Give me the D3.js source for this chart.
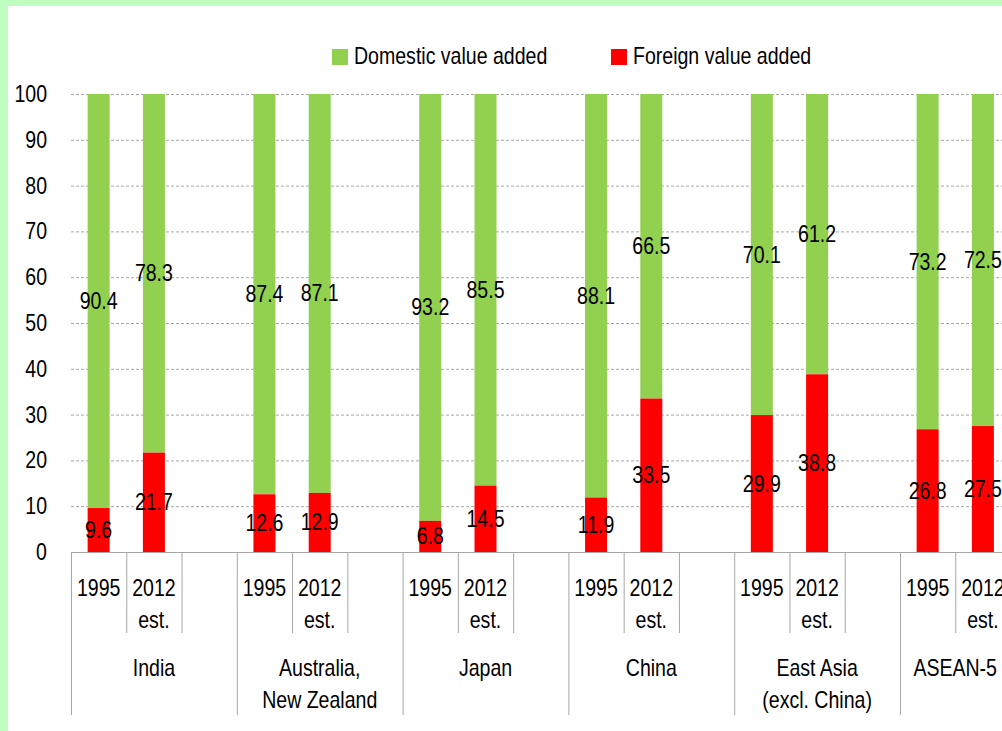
<!DOCTYPE html>
<html>
<head>
<meta charset="utf-8">
<script src="https://cdn.jsdelivr.net/npm/d3@7"></script>
<style>
  body { margin: 0; background: #fff; }
  svg { display: block; }
  text { font-family: "Liberation Sans", Arial, sans-serif; fill: #000; font-size: 23px; }
</style>
</head>
<body>
<svg id="chart" width="1002" height="731"></svg>
<script>
const groups = ['India', 'Australia,\nNew Zealand', 'Japan', 'China', 'East Asia\n(excl. China)', 'ASEAN-5'];
const slots = ['1995', '2012\nest.', ''];
const years = ['1995', '2012\nest.'];
// foreign value added share (%), per group: [1995, 2012 est.]
const foreign = [[9.6, 21.7], [12.6, 12.9], [6.8, 14.5], [11.9, 33.5], [29.9, 38.8], [26.8, 27.5]];
const domestic = [[90.4, 78.3], [87.4, 87.1], [93.2, 85.5], [88.1, 66.5], [70.1, 61.2], [73.2, 72.5]];
const yTicks = [0, 10, 20, 30, 40, 50, 60, 70, 80, 90, 100];

const green = '#92d050', red = '#ff0000';
const W = 1002;
const svg = d3.select('#chart');

// condensed look: squeeze text horizontally
function label(parent, x, y, str, anchor) {
  const g = parent.append('g').attr('transform', `translate(${x},${y}) scale(0.85,1)`);
  g.append('text').attr('text-anchor', anchor || 'middle').text(str);
  return g;
}

// light green frame
svg.append('rect').attr('x', 0).attr('y', 0).attr('width', W).attr('height', 6).attr('fill', '#bfffbf');
svg.append('rect').attr('x', 0).attr('y', 0).attr('width', 8).attr('height', 731).attr('fill', '#bfffbf');

const groupW = 165.8;
const x0 = d3.scaleBand().domain(groups).range([71, 71 + groupW * groups.length]);
const x1 = d3.scaleBand().domain(slots).range([0, groupW]);
const y = d3.scaleLinear().domain([0, 100]).range([552, 94]);
const barW = 22;

// grid
svg.append('g').selectAll('line').data(yTicks.filter(d => d > 0)).join('line')
  .attr('x1', 71).attr('x2', W)
  .attr('y1', d => y(d) + 0.5).attr('y2', d => y(d) + 0.5)
  .attr('stroke', '#a6a6a6').attr('stroke-dasharray', '3,2');

// y tick labels
const yAxisG = svg.append('g');
yTicks.forEach(d => label(yAxisG, 47, y(d) + 8, d, 'end'));

// bars
const rows = [];
groups.forEach((g, gi) => {
  years.forEach((yr, yi) => {
    rows.push({ g, yr, f: foreign[gi][yi], d: domestic[gi][yi] });
  });
});
const cx = r => x0(r.g) + x1(r.yr) + x1.bandwidth() / 2;

const bars = svg.append('g');
bars.selectAll('rect.dom').data(rows).join('rect').attr('class', 'dom')
  .attr('x', r => cx(r) - barW / 2).attr('width', barW)
  .attr('y', r => y(r.f + r.d)).attr('height', r => y(r.f) - y(r.f + r.d))
  .attr('fill', green);
bars.selectAll('rect.for').data(rows).join('rect').attr('class', 'for')
  .attr('x', r => cx(r) - barW / 2).attr('width', barW)
  .attr('y', r => y(r.f)).attr('height', r => y(0) - y(r.f))
  .attr('fill', red);

// value labels
const labels = svg.append('g');
rows.forEach(r => {
  label(labels, cx(r), y(r.f + r.d / 2) + 8, r.d.toFixed(1));
  label(labels, cx(r), y(r.f / 2) + 8, r.f.toFixed(1));
});

// x axis line
svg.append('line').attr('x1', 71).attr('x2', W).attr('y1', 552.5).attr('y2', 552.5)
  .attr('stroke', '#a6a6a6');

// category separators
const sep = svg.append('g').attr('stroke', '#a6a6a6');
groups.forEach(g => {
  sep.append('line').attr('x1', x0(g) + 0.5).attr('x2', x0(g) + 0.5).attr('y1', 552).attr('y2', 715);
  [1, 2].forEach(i => {
    const xx = x0(g) + x1(slots[i]) + 0.5;
    sep.append('line').attr('x1', xx).attr('x2', xx).attr('y1', 552).attr('y2', 633);
  });
});

// year labels
const yl = svg.append('g');
rows.forEach(r => {
  r.yr.split('\n').forEach((line, i) => label(yl, cx(r), 596 + i * 32, line));
});

// group labels, pulled in from the right edge when they would be cut
const gl = svg.append('g');
groups.forEach(g => {
  g.split('\n').forEach((line, i) => {
    let gx = x0(g) + groupW / 2;
    const t = label(gl, gx, 676 + i * 32, line);
    const half = t.select('text').node().getComputedTextLength() * 0.85 / 2;
    if (gx + half > W - 5) {
      gx = W - 5 - half;
      t.attr('transform', `translate(${gx},${676 + i * 32}) scale(0.85,1)`);
    }
  });
});

// legend
const legend = svg.append('g');
[['Domestic value added', green, 332], ['Foreign value added', red, 611]].forEach(([t, c, lx]) => {
  legend.append('rect').attr('x', lx).attr('y', 49).attr('width', 16).attr('height', 16).attr('fill', c);
  label(legend, lx + 22, 64, t, 'start');
});
</script>
</body>
</html>
